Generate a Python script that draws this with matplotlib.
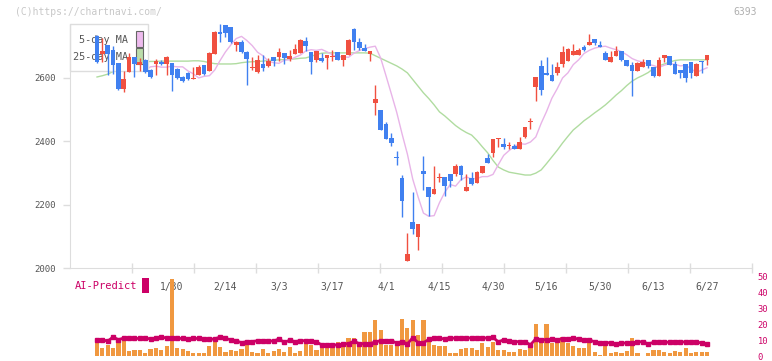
import numpy as np
import matplotlib.pyplot as plt
from matplotlib.patches import Rectangle

# ---- data ----
opens = [2732, 2676, 2704, 2689, 2648, 2565, 2619, 2666, 2641, 2657,
         2626, 2644, 2651, 2644, 2648, 2629, 2603, 2616, 2598, 2610,
         2641, 2622, 2676, 2745, 2767, 2761, 2704, 2714, 2682, 2632,
         2619, 2644, 2638, 2666, 2666, 2679, 2660, 2676, 2679, 2717,
         2682, 2657, 2663, 2663, 2665, 2682, 2657, 2673, 2754, 2714,
         2695, 2676, 2521, 2499, 2455, 2411, 2349, 2285, 2023, 2146,
         2099, 2307, 2256, 2234, 2284, 2288, 2297, 2297, 2323, 2244,
         2285, 2269, 2300, 2348, 2364, 2408, 2392, 2385, 2386, 2376,
         2414, 2460, 2572, 2638, 2616, 2610, 2616, 2644, 2654, 2673,
         2673, 2698, 2704, 2723, 2704, 2679, 2651, 2670, 2685, 2657,
         2641, 2622, 2635, 2657, 2635, 2607, 2663, 2670, 2644, 2626,
         2644, 2651, 2607, 2654, 2657]
highs = [2735, 2726, 2704, 2701, 2648, 2622, 2680, 2666, 2663, 2660,
         2629, 2660, 2657, 2670, 2648, 2632, 2607, 2619, 2635, 2641,
         2641, 2682, 2748, 2770, 2767, 2761, 2717, 2720, 2685, 2666,
         2673, 2673, 2663, 2666, 2695, 2679, 2689, 2708, 2723, 2729,
         2682, 2685, 2679, 2673, 2689, 2682, 2673, 2722, 2758, 2726,
         2708, 2685, 2578, 2499, 2461, 2427, 2370, 2294, 2111, 2241,
         2140, 2354, 2256, 2323, 2300, 2288, 2297, 2329, 2326, 2297,
         2304, 2307, 2323, 2360, 2408, 2411, 2411, 2398, 2392, 2414,
         2445, 2474, 2603, 2657, 2666, 2644, 2651, 2701, 2695, 2708,
         2695, 2704, 2739, 2723, 2717, 2685, 2685, 2701, 2685, 2657,
         2651, 2651, 2660, 2657, 2635, 2666, 2673, 2670, 2654, 2626,
         2644, 2651, 2648, 2654, 2673]
lows = [2646, 2651, 2610, 2613, 2562, 2556, 2619, 2603, 2622, 2616,
        2600, 2610, 2641, 2610, 2559, 2597, 2588, 2594, 2598, 2610,
        2610, 2622, 2676, 2714, 2729, 2711, 2685, 2679, 2578, 2626,
        2616, 2622, 2635, 2638, 2654, 2644, 2654, 2676, 2679, 2685,
        2613, 2651, 2651, 2629, 2654, 2657, 2638, 2671, 2689, 2689,
        2685, 2654, 2483, 2436, 2408, 2386, 2326, 2162, 2023, 2108,
        2058, 2247, 2165, 2234, 2272, 2228, 2256, 2291, 2278, 2244,
        2263, 2269, 2300, 2332, 2351, 2382, 2376, 2376, 2376, 2376,
        2411, 2439, 2527, 2546, 2610, 2591, 2610, 2635, 2654, 2673,
        2673, 2685, 2704, 2704, 2698, 2657, 2651, 2670, 2654, 2638,
        2543, 2622, 2635, 2632, 2603, 2607, 2651, 2641, 2613, 2600,
        2588, 2600, 2607, 2616, 2641]
closes = [2651, 2685, 2676, 2641, 2565, 2597, 2666, 2644, 2651, 2619,
          2603, 2654, 2644, 2666, 2610, 2600, 2591, 2597, 2601, 2635,
          2613, 2679, 2745, 2739, 2742, 2714, 2714, 2682, 2660, 2635,
          2657, 2632, 2654, 2654, 2682, 2663, 2670, 2692, 2720, 2701,
          2651, 2685, 2654, 2673, 2667, 2657, 2673, 2720, 2714, 2695,
          2685, 2685, 2534, 2436, 2408, 2395, 2347, 2212, 2045, 2124,
          2140, 2297, 2225, 2250, 2286, 2260, 2275, 2323, 2294, 2256,
          2266, 2304, 2323, 2332, 2408, 2411, 2382, 2387, 2376, 2398,
          2445, 2462, 2603, 2562, 2610, 2591, 2635, 2682, 2692, 2685,
          2689, 2689, 2714, 2711, 2698, 2657, 2666, 2685, 2657, 2638,
          2622, 2648, 2651, 2638, 2607, 2657, 2673, 2641, 2613, 2616,
          2600, 2616, 2644, 2651, 2673]

ma5 = [2668, 2668, 2668, 2662, 2655, 2644, 2633, 2629, 2623, 2625,
       2635, 2637, 2634, 2634, 2637, 2635, 2635, 2622, 2613, 2600,
       2605, 2607, 2625, 2655, 2682, 2704, 2724, 2731, 2718, 2702,
       2681, 2670, 2653, 2648, 2646, 2656, 2657, 2665, 2672, 2685,
       2689, 2687, 2690, 2682, 2673, 2666, 2667, 2665, 2678, 2686,
       2692, 2697, 2700, 2663, 2607, 2550, 2492, 2424, 2360, 2281,
       2225, 2174, 2164, 2166, 2207, 2240, 2264, 2259, 2279, 2288,
       2282, 2283, 2289, 2289, 2296, 2327, 2356, 2371, 2384, 2393,
       2391, 2398, 2414, 2457, 2494, 2536, 2566, 2600, 2616, 2642,
       2657, 2677, 2687, 2694, 2698, 2700, 2694, 2689, 2683, 2673,
       2661, 2654, 2650, 2643, 2639, 2633, 2640, 2645, 2643, 2638,
       2640, 2629, 2617, 2625, 2632]
ma25 = [2603, 2607, 2612, 2620, 2628, 2635, 2640, 2645, 2649, 2651,
        2652, 2652, 2653, 2653, 2653, 2653, 2653, 2653, 2654, 2654,
        2652, 2648, 2645, 2644, 2644, 2644, 2645, 2648, 2650, 2651,
        2652, 2653, 2655, 2656, 2657, 2658, 2659, 2660, 2662, 2663,
        2668, 2674, 2678, 2679, 2679, 2679, 2679, 2679, 2679, 2679,
        2679, 2678, 2670, 2662, 2654, 2646, 2638, 2628, 2616, 2595,
        2574, 2553, 2535, 2515, 2493, 2480, 2465, 2450, 2438, 2428,
        2420, 2403, 2383, 2364, 2340, 2319, 2310, 2303, 2300, 2297,
        2294, 2294, 2300, 2310, 2330, 2351, 2372, 2395, 2416, 2436,
        2450, 2465, 2477, 2490, 2502, 2515, 2530, 2546, 2560, 2576,
        2590, 2600, 2608, 2617, 2630, 2638, 2644, 2650, 2655, 2657,
        2657, 2657, 2657, 2657, 2657]

volume = [8.9, 5.3, 7.2, 5.3, 9.9, 10.9, 3.4, 4.1, 4.1, 2.2,
          4.7, 5.3, 4.1, 6.6, 49.0, 5.3, 4.7, 3.4, 1.6, 2.2,
          2.2, 6.6, 9.1, 5.9, 2.8, 4.1, 3.4, 4.7, 7.8, 2.8,
          2.2, 4.7, 1.6, 3.4, 4.7, 2.8, 5.9, 1.6, 3.4, 7.8,
          7.2, 4.1, 5.3, 5.3, 6.6, 9.1, 7.2, 11.6, 11.6, 7.8,
          15.3, 15.3, 22.8, 16.6, 7.2, 7.2, 9.1, 23.4, 17.8, 22.8,
          13.4, 22.8, 9.7, 7.2, 6.6, 6.6, 2.2, 2.2, 4.7, 5.3,
          5.3, 4.1, 8.4, 5.9, 9.1, 4.1, 4.1, 2.8, 2.8, 4.7,
          4.1, 6.6, 20.3, 11.6, 20.3, 8.4, 8.4, 12.2, 8.4, 6.6,
          5.3, 5.3, 9.1, 2.8, 0.9, 7.2, 1.6, 2.8, 2.2, 3.4,
          11.6, 1.6, 0.3, 1.6, 4.1, 4.1, 2.8, 1.6, 3.4, 2.8,
          5.3, 2.2, 2.8, 2.8, 2.8]
ai_predict = [10.3, 10.3, 9.4, 12.0, 10.3, 11.4, 11.1, 11.1, 11.1, 11.4,
              10.8, 11.1, 12.0, 11.4, 11.1, 11.1, 11.1, 10.5, 11.1, 11.1,
              10.5, 10.5, 10.8, 12.0, 11.1, 10.3, 9.7, 8.4, 9.1, 9.1,
              9.7, 9.7, 9.7, 9.4, 10.8, 8.6, 10.0, 9.1, 9.7, 9.7,
              9.4, 8.9, 7.0, 7.0, 7.0, 7.0, 7.6, 7.8, 9.4, 7.8,
              7.8, 7.8, 8.9, 9.7, 9.7, 9.7, 8.2, 9.1, 7.6, 11.6,
              8.4, 8.4, 10.5, 11.1, 11.1, 10.9, 11.6, 11.1, 11.4, 11.1,
              11.6, 11.4, 11.4, 11.4, 11.8, 8.9, 10.3, 9.2, 9.1, 9.1,
              8.9, 7.1, 10.9, 10.3, 10.3, 10.5, 10.3, 10.9, 10.5, 11.6,
              10.5, 9.9, 10.3, 8.9, 8.4, 8.4, 8.4, 7.6, 8.2, 8.2,
              8.2, 8.9, 9.1, 7.6, 8.7, 8.7, 8.7, 8.7, 9.1, 8.9,
              8.9, 8.9, 8.9, 8.2, 7.6]

date_labels = ['1/30', '2/14', '3/3', '3/17', '4/1', '4/15',
               '4/30', '5/16', '5/30', '6/13', '6/27']
label_pos = [14, 24, 34, 44, 54, 64, 74, 84, 94, 104, 114]
price_ticks = [2000, 2200, 2400, 2600]

# ---- colours ----
RED = '#f05040'
BLUE = '#4080f0'
MA5_C = '#e8b4e8'
MA25_C = '#b0dca0'
GRID = '#dddddd'
TXT = '#555555'
MAG = '#cc0066'
ORANGE = '#f09840'

plt.rcParams['font.family'] = ['DejaVu Sans Mono']

W, H = 772, 361
fig = plt.figure(figsize=(W / 100, H / 100), dpi=100)

def fx(px):
    return px / W

def fy(py):
    return 1 - py / H

x = np.arange(len(closes))
o = np.array(opens, float)
c = np.array(closes, float)
hi = np.array(highs, float)
lo = np.array(lows, float)
xmin, xmax = -5.05, 122.4

# ---- price panel ----
ax = fig.add_axes([fx(70), fy(268.3), fx(752) - fx(70), fy(24) - fy(268.3)])
ax.set_xlim(xmin, xmax)
ax.set_ylim(2000, 2770)
for s in ['top', 'right']:
    ax.spines[s].set_visible(False)
for s in ['left', 'bottom']:
    ax.spines[s].set_color(GRID)

col = np.where(c >= o, RED, BLUE)
ax.plot(x, ma25, color=MA25_C, lw=1, zorder=2)
ax.plot(x, ma5, color=MA5_C, lw=1, zorder=2)
ax.vlines(x, lo, hi, colors=col, lw=1, zorder=3)
body = np.maximum(np.abs(c - o), 3)
ax.bar(x, body, bottom=np.minimum(o, c), width=0.88, color=col, zorder=3)

ax.set_yticks(price_ticks)
ax.set_yticklabels([str(v) for v in price_ticks])
ax.tick_params(axis='y', colors=GRID, labelcolor=TXT, labelsize=6.5,
               length=5, width=1, pad=5)

# tick marks evenly spaced, date labels as minor ticks
ax.set_xticks(np.linspace(xmin, xmax, 12)[1:])
ax.set_xticklabels([])
ax.tick_params(axis='x', which='major', colors=GRID, length=7,
               direction='inout', width=1)
ax.set_xticks(label_pos, minor=True)
ax.set_xticklabels(date_labels, minor=True)
ax.tick_params(axis='x', which='minor', length=0, labelcolor=TXT,
               labelsize=7, pad=10)

# legend box (drawn under the candles like the original)
ax.add_patch(Rectangle((0, 0.8076), 0.1144, 0.1924, transform=ax.transAxes,
                       fc='white', ec=GRID, lw=1, zorder=2.5, clip_on=False))
ax.text(0.085, 0.9345, '5-day MA', transform=ax.transAxes, ha='right',
        va='center', fontsize=7.3, color=TXT, zorder=2.6)
ax.text(0.085, 0.865, '25-day MA', transform=ax.transAxes, ha='right',
        va='center', fontsize=7.3, color=TXT, zorder=2.6)
ax.add_patch(Rectangle((0.0968, 0.906), 0.0102, 0.065, transform=ax.transAxes,
                       fc='#eebbee', ec='#666666', lw=0.8, zorder=2.6))
ax.add_patch(Rectangle((0.0968, 0.8363), 0.0102, 0.065, transform=ax.transAxes,
                       fc='#bbddaa', ec='#666666', lw=0.8, zorder=2.6))

# ---- AI-Predict / volume panel ----
ax2 = fig.add_axes([fx(70), fy(356), fx(752) - fx(70), fy(277) - fy(356)])
ax2.patch.set_alpha(0)
ax2.set_xlim(xmin, xmax)
ax2.set_ylim(0, 50)
for s in ax2.spines.values():
    s.set_visible(False)
ax2.bar(x, volume, width=0.78, color=ORANGE, zorder=2)
ax2.plot(x, ai_predict, color=MAG, lw=2, marker='s', ms=2.5, zorder=3)
ax2.set_xticks([])
ax2.yaxis.tick_right()
ax2.set_yticks([0, 10, 20, 30, 40, 50])
ax2.tick_params(axis='y', length=0, labelcolor=MAG, labelsize=6.3, pad=4)

fig.text(fx(75), fy(286), 'AI-Predict', color=MAG, fontsize=7.5,
         ha='left', va='center')
fig.add_artist(Rectangle((fx(142), fy(293)), fx(7), fy(278) - fy(293),
                         transform=fig.transFigure, fc=MAG, ec='none'))

# ---- header ----
fig.text(fx(15), fy(12), '(C)https://chartnavi.com/', color='#c8c8c8',
         fontsize=7, ha='left', va='center')
fig.text(fx(757), fy(12), '6393', color='#b0b0b0', fontsize=7,
         ha='right', va='center')

fig.savefig('out.png', dpi=100)
